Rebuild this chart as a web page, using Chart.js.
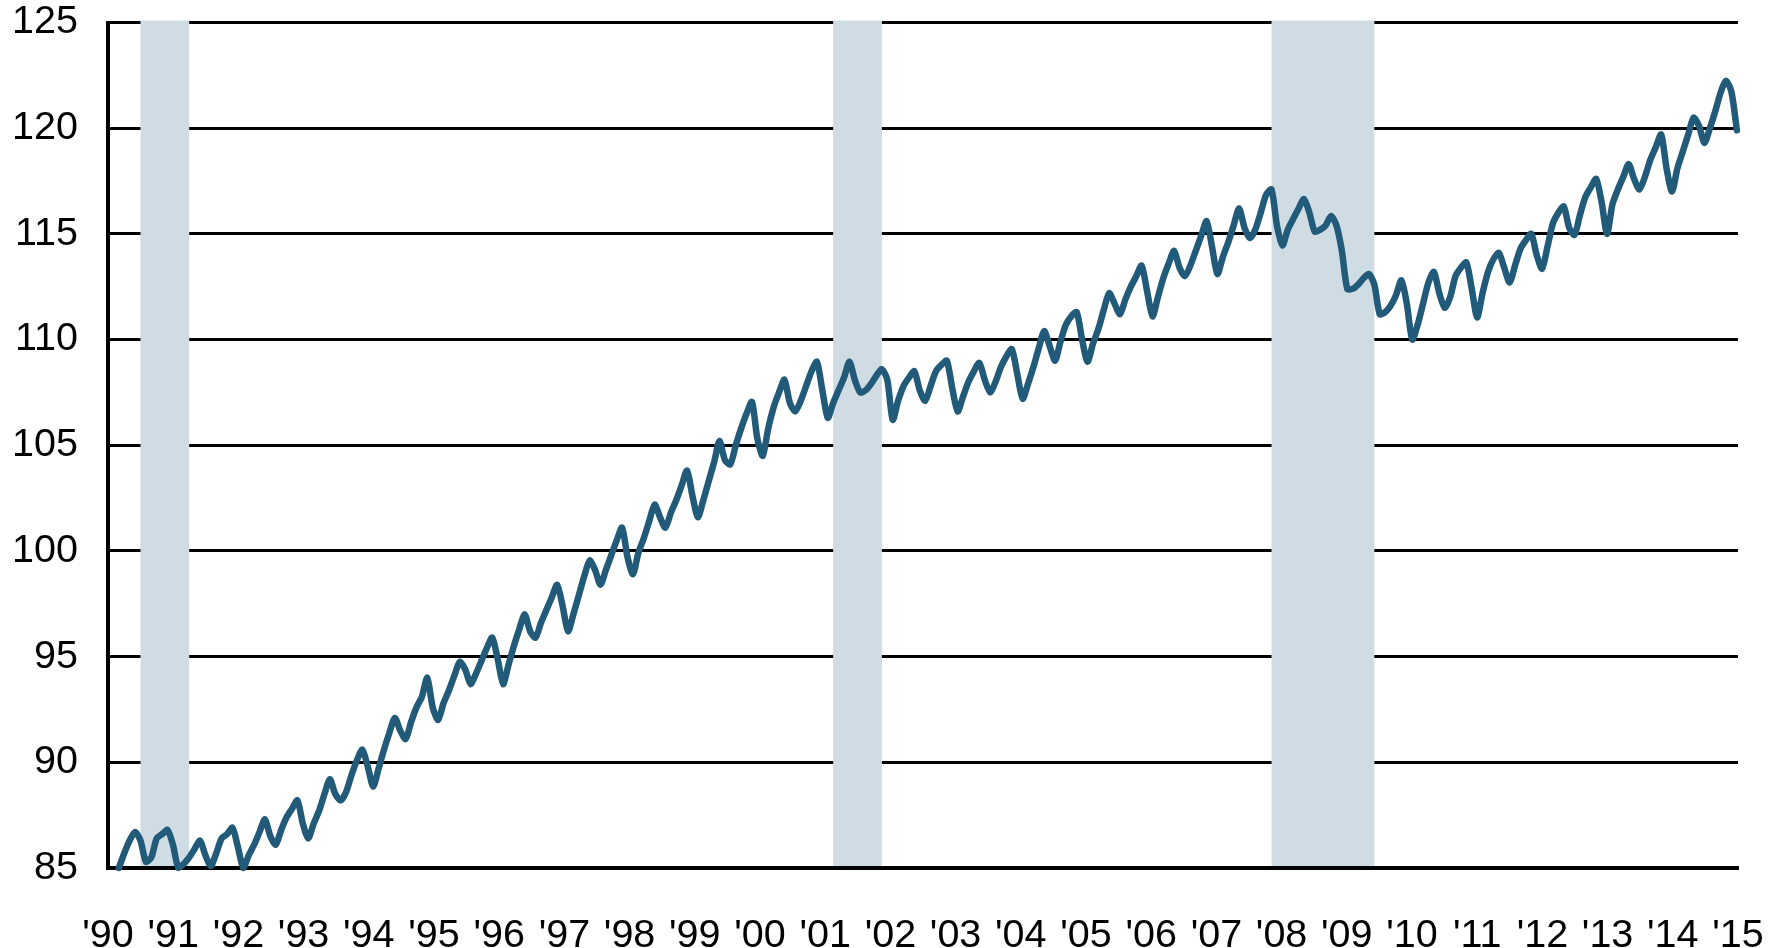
<!DOCTYPE html>
<html>
<head>
<meta charset="utf-8">
<script src="https://cdn.jsdelivr.net/npm/chart.js@4.4.1/dist/chart.umd.min.js"></script>
<style>
  html, body { margin: 0; padding: 0; background: #ffffff; }
  #wrap { width: 1778px; height: 948px; position: relative; }
</style>
</head>
<body>
<div id="wrap"><canvas id="c" width="1778" height="948"></canvas></div>
<script>
// ---- data ----
const firstMonth = '1990-02';   // first monthly observation
const values = [
  /*1990*/ 85.0, 85.7, 86.3, 86.7, 86.3, 85.3, 85.5, 86.4, 86.6, 86.8, 86.1,
  /*1991*/ 85.0, 85.2, 85.5, 85.9, 86.3, 85.6, 85.1, 85.7, 86.4, 86.6, 86.9, 86.0,
  /*1992*/ 85.0, 85.6, 86.1, 86.7, 87.3, 86.5, 86.1, 86.8, 87.4, 87.8, 88.2, 87.1,
  /*1993*/ 86.4, 87.1, 87.7, 88.5, 89.2, 88.5, 88.2, 88.6, 89.4, 90.1, 90.6, 89.8,
  /*1994*/ 88.85, 89.7, 90.6, 91.4, 92.1, 91.5, 91.1, 91.9, 92.6, 93.1, 94.0, 92.6,
  /*1995*/ 92.0, 92.8, 93.4, 94.1, 94.75, 94.4, 93.7, 94.2, 94.8, 95.4, 95.9, 94.9,
  /*1996*/ 93.7, 94.6, 95.5, 96.3, 97.0, 96.2, 95.9, 96.6, 97.2, 97.8, 98.4, 97.4,
  /*1997*/ 96.2, 97.0, 97.9, 98.8, 99.55, 99.1, 98.4, 99.1, 99.8, 100.5, 101.1, 99.7,
  /*1998*/ 98.9, 99.9, 100.6, 101.4, 102.2, 101.6, 101.1, 101.8, 102.4, 103.1, 103.8, 102.6,
  /*1999*/ 101.6, 102.4, 103.3, 104.2, 105.2, 104.3, 104.1, 105.0, 105.8, 106.5, 107.05, 105.3,
  /*2000*/ 104.5, 105.8, 106.8, 107.5, 108.1, 107.0, 106.6, 107.1, 107.8, 108.5, 108.95, 107.6,
  /*2001*/ 106.3, 107.0, 107.6, 108.2, 108.95, 108.1, 107.5, 107.6, 107.9, 108.3, 108.6, 108.1,
  /*2002*/ 106.2, 107.1, 107.8, 108.2, 108.5, 107.6, 107.1, 107.8, 108.5, 108.8, 109.0, 107.7,
  /*2003*/ 106.6, 107.3, 108.0, 108.5, 108.9, 108.1, 107.5, 108.0, 108.7, 109.2, 109.55, 108.4,
  /*2004*/ 107.2, 107.9, 108.7, 109.6, 110.4, 109.7, 109.0, 109.9, 110.7, 111.1, 111.3, 110.0,
  /*2005*/ 108.95, 109.8, 110.5, 111.4, 112.2, 111.7, 111.2, 111.9, 112.5, 113.0, 113.5, 112.3,
  /*2006*/ 111.1, 112.0, 112.9, 113.6, 114.2, 113.4, 113.0, 113.5, 114.2, 114.9, 115.6, 114.4,
  /*2007*/ 113.1, 113.9, 114.6, 115.4, 116.2, 115.3, 114.8, 115.2, 116.0, 116.85, 117.1, 115.4,
  /*2008*/ 114.45, 115.2, 115.7, 116.2, 116.65, 116.0, 115.1, 115.2, 115.4, 115.85, 115.4, 114.2,
  /*2009*/ 112.4, 112.4, 112.6, 112.9, 113.1, 112.6, 111.2, 111.3, 111.6, 112.1, 112.8, 111.7,
  /*2010*/ 110.0, 110.7, 111.7, 112.7, 113.2, 112.2, 111.5, 112.0, 113.0, 113.4, 113.65, 112.4,
  /*2011*/ 111.05, 112.2, 113.2, 113.8, 114.1, 113.4, 112.7, 113.5, 114.3, 114.7, 115.0, 114.0,
  /*2012*/ 113.35, 114.4, 115.5, 116.0, 116.3, 115.3, 114.95, 115.9, 116.75, 117.2, 117.6, 116.5,
  /*2013*/ 115.0, 116.4, 117.1, 117.7, 118.3, 117.6, 117.1, 117.7, 118.5, 119.1, 119.7, 118.1,
  /*2014*/ 117.0, 118.1, 118.9, 119.7, 120.5, 120.1, 119.3, 120.0, 120.8, 121.7, 122.25, 121.7,
  /*2015*/ 119.9
];
const tickLabels = ["'90","'91","'92","'93","'94","'95","'96","'97","'98","'99","'00","'01","'02",
                    "'03","'04","'05","'06","'07","'08","'09","'10","'11","'12","'13","'14","'15"];
const yTicks = [85, 90, 95, 100, 105, 110, 115, 120, 125];
const recessionStarts = ['1990-07', '2001-03', '2007-12'];
const recessionEnds   = ['1991-03', '2001-11', '2009-06'];

// ---- helpers ----
function ym(s) { const p = s.split('-').map(Number); return { y: p[0], m: p[1] }; }
function monthStart(s) { const d = ym(s); return d.y + (d.m - 1) / 12; }
function monthEnd(s)   { const d = ym(s); return d.y + d.m / 12; }
const f0 = ym(firstMonth);
const points = values.map((v, i) => {
  const idx = (f0.m - 1) + i;
  return { x: f0.y + Math.floor(idx / 12) + ((idx % 12) + 1) / 12, y: v };
});

const FONT = { family: "'Liberation Sans', Arial, Helvetica, sans-serif", size: 39.5 };

const recessionPlugin = {
  id: 'recessions',
  beforeDatasetsDraw(chart) {
    const { ctx, chartArea, scales } = chart;
    ctx.save();
    ctx.fillStyle = '#d0dce3';
    recessionStarts.forEach((s, i) => {
      const x1 = scales.x.getPixelForValue(monthStart(s));
      const x2 = scales.x.getPixelForValue(monthEnd(recessionEnds[i]));
      ctx.fillRect(x1, chartArea.top - 2, x2 - x1, chartArea.bottom - chartArea.top);
    });
    ctx.restore();
  }
};

new Chart(document.getElementById('c'), {
  type: 'line',
  data: {
    datasets: [{
      data: points,
      borderColor: '#225a7a',
      borderWidth: 6.5,
      pointRadius: 0,
      tension: 0.25,
      borderJoinStyle: 'round',
      borderCapStyle: 'round',
      clip: false
    }]
  },
  options: {
    responsive: false,
    animation: false,
    devicePixelRatio: 1,
    layout: { padding: { top: 22.5, right: 40, bottom: 0, left: 0 } },
    plugins: { legend: { display: false }, tooltip: { enabled: false } },
    scales: {
      x: {
        type: 'linear',
        min: 1990.0,
        max: 2015.1,
        afterBuildTicks(scale) {
          const n = tickLabels.length - 1;
          scale.ticks = tickLabels.map((_, k) => ({ value: scale.min + k * (scale.max - scale.min) / n }));
        },
        afterFit(scale) {
          scale.height = 80;
          scale.paddingLeft = 0; scale.paddingRight = 0;
        },
        ticks: {
          autoSkip: false,
          maxRotation: 0,
          minRotation: 0,
          padding: 44,
          color: '#000000',
          font: FONT,
          callback: (v, i) => tickLabels[i]
        },
        grid: { display: false, drawTicks: false },
        border: { display: true, color: '#000000', width: 4 }
      },
      y: {
        min: 85,
        max: 125,
        afterBuildTicks(scale) { scale.ticks = yTicks.map(v => ({ value: v })); },
        afterFit(scale) {
          scale.width = 108;
          scale.paddingTop = 0; scale.paddingBottom = 0;
        },
        ticks: { padding: 30, color: '#000000', font: FONT },
        grid: { color: '#000000', lineWidth: 3, drawTicks: false },
        border: { display: true, color: '#000000', width: 4 }
      }
    }
  },
  plugins: [recessionPlugin]
});
</script>
</body>
</html>
